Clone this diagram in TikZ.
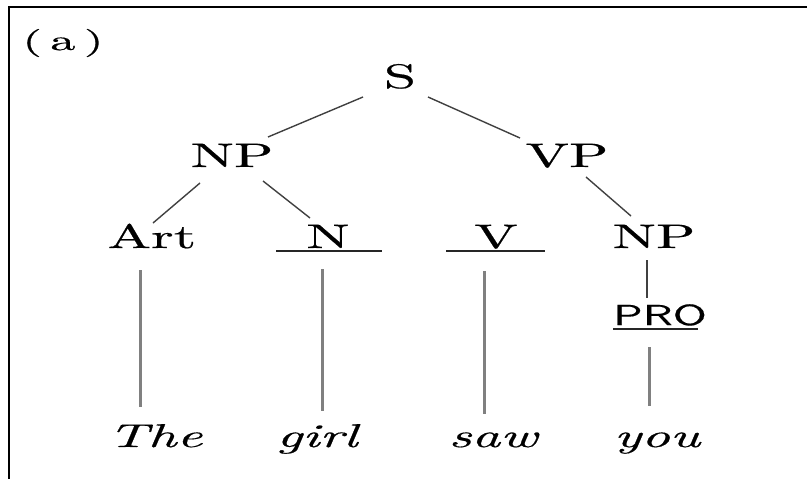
\documentclass[tikz,border=0pt]{standalone}
\usepackage{graphicx}
\usepackage{fontspec}
\usetikzlibrary{calc}
\newfontfamily\catfont{lmroman10-regular.otf}[FakeBold=0.5]
\newfontfamily\wordfont{lmroman10-italic.otf}[FakeBold=0.4]
\newfontfamily\profont{lmsans10-regular.otf}[FakeBold=0.4]
\newcommand{\stretchtxt}[2][1.7]{\scalebox{#1}[1]{#2}}
\tikzset{
  cat/.style={inner sep=0pt, anchor=base, font=\fontsize{34}{40}\catfont},
  word/.style={inner sep=0pt, anchor=base, font=\fontsize{33}{40}\wordfont},
  pro/.style={inner sep=0pt, anchor=base, font=\fontsize{29}{34}\profont},
  lab/.style={inner sep=0pt, anchor=base, font=\fontsize{28}{32}\catfont},
  branch/.style={draw=black!75, line width=1.4pt},
  stem/.style={draw=black!50, line width=3pt},
  uline/.style={draw=black!85, line width=1.3pt},
  frame/.style={draw=black, line width=2.4pt}
}
\begin{document}
\begin{tikzpicture}[x=1pt,y=-1pt]
\useasboundingbox (0,0) rectangle (807,479);
\draw[frame] (9,479) -- (9,7) -- (807,7);
\node[lab] (lab) at (63,50) {\stretchtxt[1.8]{(\,a\,)}};
\node[cat] (S) at (400,88) {\stretchtxt{S}};
\node[cat] (NP) at (232,167) {\stretchtxt{NP}};
\node[cat] (VP) at (567,167) {\stretchtxt{VP}};
\node[cat] (Art) at (152,248) {\stretchtxt{Art}};
\node[cat] (N) at (328,248) {\stretchtxt{N}};
\node[cat] (V) at (496,248) {\stretchtxt{V}};
\node[cat] (NPb) at (654,248) {\stretchtxt{NP}};
\node[pro] (PRO) at (660,325) {\stretchtxt[1.6]{PRO}};
\node[word] (The) at (155,447) {\stretchtxt{The}};
\node[word] (girl) at (317,447) {\stretchtxt{girl}};
\node[word] (saw) at (493,447) {\stretchtxt{saw}};
\node[word] (you) at (657,447) {\stretchtxt{you}};
% branches
\draw[branch] ($(S.base)+(-37,9)$) -- ($(NP.base)+(36,-30)$);
\draw[branch] ($(S.base)+(28,9)$) -- ($(VP.base)+(-47,-29)$);
\draw[branch] ($(NP.base)+(-32,16)$) -- ($(Art.base)+(1,-25)$);
\draw[branch] ($(NP.base)+(31,14)$) -- ($(N.base)+(-18,-30)$);
\draw[branch] ($(VP.base)+(19,10)$) -- ($(NPb.base)+(-23,-32)$);
\draw[branch] ($(NPb.base)+(-7,12)$) -- ($(PRO.base)+(-13,-27)$);
% underlines
\draw[uline] ($(N.base)+(-52,3)$) -- ($(N.base)+(54,3)$);
\draw[uline] ($(V.base)+(-50,3)$) -- ($(V.base)+(49,3)$);
\draw[uline] ($(PRO.base)+(-47,4)$) -- ($(PRO.base)+(38,4)$);
% stems
\draw[stem] ($(Art.base)+(-12,22)$) -- ($(The.base)+(-15,-40)$);
\draw[stem] ($(N.base)+(-6,21)$) -- ($(girl.base)+(5,-36)$);
\draw[stem] ($(V.base)+(-12,23)$) -- ($(saw.base)+(-9,-33)$);
\draw[stem] ($(PRO.base)+(-11,22)$) -- ($(you.base)+(-8,-41)$);
\end{tikzpicture}
\end{document}
